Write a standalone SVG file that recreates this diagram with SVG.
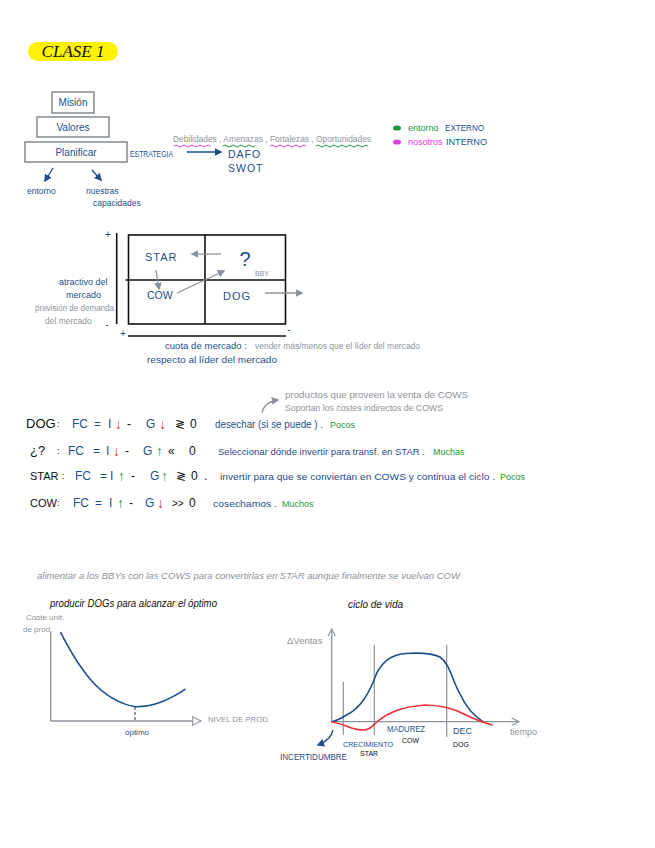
<svg xmlns="http://www.w3.org/2000/svg" width="655" height="848" viewBox="0 0 655 848">
<defs>
<style>
.t{font-family:"Liberation Sans",Arial,sans-serif;}
.b{fill:#1d4f8c;}
.g{fill:#8c939b;}
.k{fill:#111;}
.gr{fill:#22963d;}
.mg{fill:#e040d8;}
.rd{fill:#e8303a;}
.ar{font-weight:bold;font-size:14px;}
.box{fill:none;stroke:#8a9098;stroke-width:1.6;}
.ln{fill:none;stroke-linecap:round;}
</style>
<marker id="ab" viewBox="0 0 10 10" refX="8" refY="5" markerWidth="6" markerHeight="6" orient="auto"><path d="M0,0 L10,5 L0,10 z" fill="#1d4f8c"/></marker>
<marker id="ag" viewBox="0 0 10 10" refX="8" refY="5" markerWidth="6" markerHeight="6" orient="auto"><path d="M0,0 L10,5 L0,10 z" fill="#8c939b"/></marker>
<marker id="ao" viewBox="0 0 10 10" refX="9" refY="5" markerWidth="8" markerHeight="8" orient="auto"><path d="M1,1 L9,5 L1,9 z" fill="#fff" stroke="#8c939b" stroke-width="1"/></marker>
<marker id="ac" viewBox="0 0 10 10" refX="9" refY="5" markerWidth="7" markerHeight="7" orient="auto"><path d="M1,1 L9,5 L1,9" fill="none" stroke="#8c939b" stroke-width="1.2"/></marker>
</defs>
<rect width="655" height="848" fill="#fff"/>

<!-- Title -->
<g id="title">
<rect x="28" y="42" width="90" height="19" rx="9.5" fill="#fff200"/>
<text x="73" y="57" text-anchor="middle" class="t k" style="font-family:'Liberation Serif',serif;font-style:italic;font-size:17px">CLASE 1</text>
</g>

<!-- Pyramid -->
<g id="mision"><rect class="box" x="52" y="92" width="42" height="21"/><text x="73" y="106" text-anchor="middle" class="t b" font-size="10">Misión</text></g>
<g id="valores"><rect class="box" x="37" y="117" width="72" height="20"/><text x="73" y="131" text-anchor="middle" class="t b" font-size="10">Valores</text></g>
<g id="planificar"><rect class="box" x="25" y="142" width="102" height="20"/><text x="76" y="156" text-anchor="middle" class="t b" font-size="10">Planificar</text></g>
<g id="estrategia"><text x="130" y="157" class="t b" font-size="8.5" textLength="43" lengthAdjust="spacingAndGlyphs">ESTRATEGIA</text></g>
<g id="dafo"><text x="228" y="158" class="t b" font-size="10.5" letter-spacing="1">DAFO</text><text x="228" y="172" class="t b" font-size="10.5" letter-spacing="1">SWOT</text></g>
<g id="dafo-list">
<text x="173" y="142" class="t g" font-size="9.5" textLength="198" lengthAdjust="spacingAndGlyphs">Debilidades , Amenazas , Fortalezas , Oportunidades</text>
<path class="ln" stroke="#e040d8" stroke-width="1" d="M174,146 q2,-2 4,0 t4,0 t4,0 t4,0 t4,0 t4,0 t4,0 t4,0 t4,0"/>
<path class="ln" stroke="#22963d" stroke-width="1" d="M223,146 q2,-2 4,0 t4,0 t4,0 t4,0 t4,0 t4,0 t4,0 t4,0"/>
<path class="ln" stroke="#e040d8" stroke-width="1" d="M270,146 q2,-2 4,0 t4,0 t4,0 t4,0 t4,0 t4,0 t4,0 t4,0 t4,0"/>
<path class="ln" stroke="#22963d" stroke-width="1" d="M316,146 q2,-2 4,0 t4,0 t4,0 t4,0 t4,0 t4,0 t4,0 t4,0 t4,0 t4,0 t4,0 t4,0 t4,0"/>
</g>
<g id="legend">
<ellipse cx="397" cy="128" rx="4" ry="2.6" fill="#22963d"/>
<text x="408" y="131" class="t gr" font-size="9">entorno</text>
<text x="445" y="131" class="t b" font-size="9" textLength="39" lengthAdjust="spacingAndGlyphs">EXTERNO</text>
<ellipse cx="397" cy="142" rx="4" ry="2.6" fill="#e040d8"/>
<text x="408" y="145" class="t mg" font-size="9">nosotros</text>
<text x="446" y="145" class="t b" font-size="9" textLength="41" lengthAdjust="spacingAndGlyphs">INTERNO</text>
</g>
<g id="entorno"><text x="27" y="194" class="t b" font-size="8.5">entorno</text></g>
<g id="capacidades"><text x="86" y="194" class="t b" font-size="8.5">nuestras</text><text x="93" y="206" class="t b" font-size="8.5">capacidades</text></g>

<!-- Matrix -->
<g id="matrix">
<rect x="128.5" y="235" width="157" height="89" fill="none" stroke="#111" stroke-width="1.6"/>
<line x1="205" y1="235" x2="205" y2="324" stroke="#111" stroke-width="1.6"/>
<line x1="125.5" y1="280" x2="285.5" y2="280" stroke="#111" stroke-width="1.6"/>
<line x1="116.7" y1="233" x2="116.7" y2="324" stroke="#111" stroke-width="1.6"/>
<line x1="128" y1="336" x2="286" y2="336" stroke="#111" stroke-width="1.4"/>
<text x="108" y="238" text-anchor="middle" class="t b" font-size="10">+</text>
<text x="107" y="328" text-anchor="middle" class="t b" font-size="10">-</text>
<text x="123" y="337" text-anchor="middle" class="t b" font-size="10">+</text>
<text x="289" y="333" text-anchor="middle" class="t b" font-size="10">-</text>
</g>
<g id="star-q"><text x="145" y="261" class="t b" font-size="11" letter-spacing="1">STAR</text></g>
<g id="bby-q"><text x="245" y="266" text-anchor="middle" class="t b" font-size="20">?</text><text x="255" y="276" class="t g" font-size="7">BBY</text></g>
<g id="cow-q"><text x="147" y="299" class="t b" font-size="10.5">COW</text></g>
<g id="dog-q"><text x="223" y="300" class="t b" font-size="11" letter-spacing="1">DOG</text></g>
<g id="matrix-labels">
<text x="59" y="285" class="t b" font-size="9">atractivo del</text>
<text x="66" y="298" class="t b" font-size="9">mercado</text>
<text x="35" y="311" class="t g" font-size="8.5" textLength="79" lengthAdjust="spacingAndGlyphs">previsión de demanda</text>
<text x="45" y="324" class="t g" font-size="8.5">del mercado</text>
<text x="165" y="349" class="t b" font-size="9.5" textLength="82" lengthAdjust="spacingAndGlyphs">cuota de mercado :</text>
<text x="255" y="349" class="t g" font-size="8.5" textLength="165" lengthAdjust="spacingAndGlyphs">vender más/menos que el líder del mercado</text>
<text x="147" y="363" class="t b" font-size="9.5" textLength="130" lengthAdjust="spacingAndGlyphs">respecto al líder del mercado</text>
</g>

<!-- Connectors -->
<g id="connectors" stroke-width="1.3" fill="none">
<line x1="53" y1="168" x2="45" y2="181" stroke="#1d4f8c" marker-end="url(#ab)"/>
<line x1="92" y1="170" x2="101" y2="180" stroke="#1d4f8c" marker-end="url(#ab)"/>
<line x1="187" y1="152" x2="221" y2="152" stroke="#1d4f8c" marker-end="url(#ab)"/>
<line x1="221" y1="254" x2="192" y2="254" stroke="#8c939b" marker-end="url(#ag)"/>
<line x1="156" y1="270" x2="159" y2="289" stroke="#8c939b" marker-end="url(#ag)"/>
<line x1="177" y1="293" x2="224" y2="271" stroke="#8c939b" marker-end="url(#ag)"/>
<line x1="265" y1="293" x2="302" y2="293" stroke="#8c939b" marker-end="url(#ag)"/>
<path d="M262,413 Q264,402 278,400" stroke="#8c939b" marker-end="url(#ag)"/>
<path d="M333,730 Q331,740 318,745" stroke="#1d4f8c" marker-end="url(#ab)"/>
</g>

<!-- Formulas -->
<g id="annot">
<text x="285" y="398" class="t g" font-size="9" textLength="183" lengthAdjust="spacingAndGlyphs">productos que proveen la venta de COWS</text>
<text x="285" y="411" class="t g" font-size="9" textLength="158" lengthAdjust="spacingAndGlyphs">Soportan los costes indirectos de COWS</text>
</g>
<g id="f-dog" class="t" font-size="12">
<text x="26" y="428" class="k" font-size="13">DOG</text><text x="57" y="427" class="k" font-size="9">:</text>
<text x="72" y="428" class="b">FC</text><text x="94" y="428" class="b">=</text><text x="108" y="428" class="b">I</text>
<text x="115" y="429" class="rd ar">↓</text><text x="127" y="428" class="k">-</text>
<text x="146" y="428" class="b">G</text><text x="159" y="429" class="rd ar">↓</text>
<text x="175" y="428" class="k">≷</text><text x="190" y="428" class="k">0</text>
<text x="215" y="428" class="b" font-size="10" textLength="108" lengthAdjust="spacingAndGlyphs">desechar (si se puede ) .</text>
<text x="330" y="428" class="gr" font-size="9">Pocos</text>
</g>
<g id="f-bby" class="t" font-size="12">
<text x="30" y="455" class="k" font-size="13">¿?</text><text x="57" y="454" class="k" font-size="9">:</text>
<text x="68" y="455" class="b">FC</text><text x="93" y="455" class="b">=</text><text x="106" y="455" class="b">I</text>
<text x="113" y="456" class="rd ar">↓</text><text x="125" y="455" class="k">-</text>
<text x="143" y="455" class="b">G</text><text x="156" y="456" class="gr ar">↑</text>
<text x="168" y="455" class="k">«</text><text x="189" y="455" class="k">0</text>
<text x="218" y="455" class="b" font-size="9.5" textLength="207" lengthAdjust="spacingAndGlyphs">Seleccionar dónde invertir para transf. en STAR .</text>
<text x="433" y="455" class="gr" font-size="9">Muchas</text>
</g>
<g id="f-star" class="t" font-size="12">
<text x="30" y="480" class="k" font-size="11">STAR</text><text x="62" y="479" class="k" font-size="9">:</text>
<text x="75" y="480" class="b">FC</text><text x="100" y="480" class="b">=</text><text x="110" y="480" class="b">I</text>
<text x="118" y="481" class="gr ar">↑</text><text x="131" y="480" class="k">-</text>
<text x="150" y="480" class="b">G</text><text x="161" y="481" class="gr ar">↑</text>
<text x="176" y="480" class="k">≷</text><text x="191" y="480" class="k">0</text><text x="204" y="480" class="k">.</text>
<text x="220" y="480" class="b" font-size="9.5" textLength="275" lengthAdjust="spacingAndGlyphs">invertir para que se conviertan en COWS y continua el ciclo .</text>
<text x="500" y="480" class="gr" font-size="9">Pocos</text>
</g>
<g id="f-cow" class="t" font-size="12">
<text x="30" y="507" class="k" font-size="11">COW</text><text x="57" y="506" class="k" font-size="9">:</text>
<text x="73" y="507" class="b">FC</text><text x="95" y="507" class="b">=</text><text x="109" y="507" class="b">I</text>
<text x="117" y="508" class="gr ar">↑</text><text x="129" y="507" class="k">-</text>
<text x="145" y="507" class="b">G</text><text x="157" y="508" class="rd ar">↓</text>
<text x="172" y="507" class="k" font-size="10">&gt;&gt;</text><text x="189" y="507" class="k">0</text>
<text x="213" y="507" class="b" font-size="9.5" textLength="64" lengthAdjust="spacingAndGlyphs">cosechamos .</text>
<text x="282" y="507" class="gr" font-size="9">Muchos</text>
</g>

<g id="note"><text x="37" y="579" class="t g" font-size="9.5" font-style="italic" textLength="423" lengthAdjust="spacingAndGlyphs">alimentar a los BBYs con las COWS para convertirlas en STAR aunque finalmente se vuelvan COW</text></g>

<!-- Cost chart -->
<g id="cost-chart">
<text x="50" y="607" class="t k" font-size="10" font-style="italic" textLength="167" lengthAdjust="spacingAndGlyphs">producir DOGs para alcanzar el óptimo</text>
<text x="26" y="620" class="t g" font-size="8">Coste unit.</text>
<text x="23" y="632" class="t g" font-size="8">de prod.</text>
<line x1="50.7" y1="632" x2="50.7" y2="721" stroke="#8c939b" stroke-width="1.3"/>
<line x1="50.7" y1="721" x2="201" y2="721" stroke="#8c939b" stroke-width="1.3" marker-end="url(#ao)"/>
<path class="ln" stroke="#1d4f8c" stroke-width="1.6" d="M60.7,632.7 C80,670 100,700 135,706.7 C155,707 170,699 185,689.3"/>
<line x1="135" y1="707" x2="135" y2="721" stroke="#1d4f8c" stroke-width="1.1" stroke-dasharray="3,2"/>
<text x="125" y="735" class="t b" font-size="8">óptimo</text>
<text x="208" y="722" class="t g" font-size="8" textLength="62" lengthAdjust="spacingAndGlyphs">NIVEL DE PROD.</text>
</g>

<!-- Life cycle -->
<g id="life-cycle">
<text x="348" y="608" class="t k" font-size="10" font-style="italic">ciclo de vida</text>
<line x1="331.7" y1="722" x2="331.7" y2="629" stroke="#8c939b" stroke-width="1.3" marker-end="url(#ac)"/>
<line x1="331.7" y1="721.7" x2="519" y2="721.7" stroke="#8c939b" stroke-width="1.3" marker-end="url(#ac)"/>
<text x="287" y="644" class="t g" font-size="9.5">ΔVentas</text>
<text x="510" y="735" class="t g" font-size="9">tiempo</text>
<line x1="343.3" y1="681.7" x2="343.3" y2="735" stroke="#8c939b" stroke-width="1.2"/>
<line x1="374.3" y1="645" x2="374.3" y2="735" stroke="#8c939b" stroke-width="1.2"/>
<line x1="446.7" y1="645" x2="446.7" y2="737" stroke="#8c939b" stroke-width="1.2"/>
<path class="ln" stroke="#1d4f8c" stroke-width="1.6" d="M331.7,721.7 C340,720 344,716 350,713 C362,706 370,692 376.7,673 C384,660 392,655 405,653.5 C420,652.5 432,653 440,657 C450,664 452,680 460,694 C466,707 474,716 483,721.7"/>
<path class="ln" stroke="#e8303a" stroke-width="1.6" d="M331.7,721.7 C345,724 352,730 363,730 C370,730 372,726 378,721 C388,713 400,707 425,705 C440,705 455,709 466,715 C474,719 482,722 492,725"/>
<text x="387" y="732" class="t b" font-size="9" textLength="38" lengthAdjust="spacingAndGlyphs">MADUREZ</text>
<text x="402" y="743" class="t k" font-size="7">COW</text>
<text x="453" y="734" class="t b" font-size="9">DEC</text>
<text x="453" y="747" class="t k" font-size="7">DOG</text>
<text x="343" y="747" class="t b" font-size="8" textLength="50" lengthAdjust="spacingAndGlyphs">CRECIMIENTO</text>
<text x="360" y="756" class="t k" font-size="7">STAR</text>
<text x="280" y="760" class="t b" font-size="9" textLength="67" lengthAdjust="spacingAndGlyphs">INCERTIDUMBRE</text>
</g>
</svg>
